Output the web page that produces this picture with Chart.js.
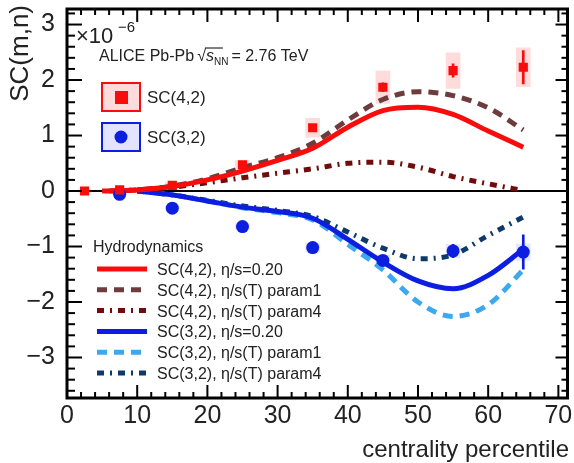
<!DOCTYPE html>
<html>
<head>
<meta charset="utf-8">
<title>SC(m,n) vs centrality</title>
<script src="https://cdn.jsdelivr.net/npm/chart.js@4.4.1/dist/chart.umd.min.js"></script>
<style>
  html, body { margin: 0; padding: 0; background: #fff; }
  canvas { display: block; }
</style>
</head>
<body>
<canvas id="sc" width="574" height="463"></canvas>
<script>
// measured points (units of 1e-6)
var cent42 = [2.5, 7.5, 15, 25, 35, 45, 55, 65];
var sc42 = [0.0, 0.02, 0.1, 0.47, 1.14, 1.87, 2.17, 2.23];
var sc42Stat = [0.01, 0.01, 0.02, 0.03, 0.05, 0.08, 0.12, 0.3];
var sc42Sys = [0.02, 0.03, 0.05, 0.08, 0.17, 0.29, 0.32, 0.35];

var cent32 = [7.5, 15, 25, 35, 45, 55, 65];
var sc32 = [-0.06, -0.31, -0.64, -1.02, -1.25, -1.08, -1.1];
var sc32Stat = [0.01, 0.02, 0.03, 0.05, 0.08, 0.12, 0.31];
var sc32Sys = [0.02, 0.03, 0.05, 0.08, 0.1, 0.12, 0.15];

// hydrodynamic calculations
var hydro42EtaX = [5, 10, 15, 20, 25, 30, 35, 40, 45, 50, 55, 60, 65];
var hydro42Eta = [0, 0.02, 0.08, 0.2, 0.36, 0.55, 0.77, 1.15, 1.45, 1.51, 1.38, 1.08, 0.79];
var hydro42P1X = [6, 10, 15, 20, 25, 30, 35, 40, 45, 50, 55, 60, 65];
var hydro42P1 = [0, 0.02, 0.09, 0.22, 0.42, 0.6, 0.86, 1.28, 1.65, 1.79, 1.72, 1.5, 1.1];
var hydro42P4X = [7, 10, 15, 20, 25, 30, 35, 40, 45, 50, 55, 60, 65];
var hydro42P4 = [0, 0.02, 0.07, 0.15, 0.24, 0.32, 0.4, 0.5, 0.52, 0.43, 0.26, 0.13, 0.01];

var hydro32X = [10, 15, 20, 25, 30, 35, 40, 45, 50, 55, 60, 65];
var hydro32Eta = [0, -0.07, -0.18, -0.29, -0.37, -0.49, -0.87, -1.28, -1.62, -1.76, -1.52, -1.05];
var hydro32P1 = [0, -0.07, -0.18, -0.3, -0.39, -0.52, -0.96, -1.42, -2.0, -2.26, -2.05, -1.42];
var hydro32P4 = [0, -0.07, -0.17, -0.27, -0.35, -0.46, -0.74, -1.03, -1.22, -1.15, -0.8, -0.47];

var hydroLabels = [
  'SC(4,2), \u03b7/s=0.20',
  'SC(4,2), \u03b7/s(T) param1',
  'SC(4,2), \u03b7/s(T) param4',
  'SC(3,2), \u03b7/s=0.20',
  'SC(3,2), \u03b7/s(T) param1',
  'SC(3,2), \u03b7/s(T) param4'
];

var RED = '#f80c0c';
var BLUE = '#0c1ee0';
var FONT = '"Liberation Sans", Arial, Helvetica, sans-serif';

function xy(xs, ys) {
  return xs.map(function(x, i) { return {x: x, y: ys[i]}; });
}
function range(xs, ys, err) {
  return xs.map(function(x, i) { return {x: x, y: [ys[i] - err[i], ys[i] + err[i]]}; });
}

function box(data, color, width, order) {
  return {
    type: 'bar', data: data, backgroundColor: color, borderWidth: 0,
    grouped: false, barThickness: width, maxBarThickness: width, order: order
  };
}
function curve(label, data, color, dash) {
  return {
    type: 'line', label: label, data: data, borderColor: color, borderWidth: 5,
    borderDash: dash, pointRadius: 0, fill: false,
    cubicInterpolationMode: 'monotone', order: 5, hydro: true
  };
}
function marks(data, color, style, r) {
  return {
    type: 'line', data: data, showLine: false, pointStyle: style, pointRadius: r,
    pointBackgroundColor: color, pointBorderWidth: 0, order: 1
  };
}

var dashed = [10, 7];
var dashDot = [7, 6, 2, 6];

var datasets = [
  box(range(cent42, sc42, sc42Sys), 'rgba(255,40,40,0.17)', 14, 10),
  box(range(cent32, sc32, sc32Sys), 'rgba(40,60,255,0.12)', 14, 10),
  curve(hydroLabels[0], xy(hydro42EtaX, hydro42Eta), RED, []),
  curve(hydroLabels[1], xy(hydro42P1X, hydro42P1), '#6e3c3c', dashed),
  curve(hydroLabels[2], xy(hydro42P4X, hydro42P4), '#700c0c', dashDot),
  curve(hydroLabels[3], xy(hydro32X, hydro32Eta), BLUE, []),
  curve(hydroLabels[4], xy(hydro32X, hydro32P1), '#3ea8ee', dashed),
  curve(hydroLabels[5], xy(hydro32X, hydro32P4), '#0e3a6a', dashDot),
  box(range(cent42, sc42, sc42Stat), RED, 2, 2),
  box(range(cent32, sc32, sc32Stat), BLUE, 2, 2),
  marks(xy(cent42, sc42), RED, 'rect', 6.5),
  marks(xy(cent32, sc32), BLUE, 'circle', 6.5)
];

function line(ctx, x1, y1, x2, y2) {
  ctx.beginPath(); ctx.moveTo(x1, y1); ctx.lineTo(x2, y2); ctx.stroke();
}

var decor = {
  id: 'decor',
  beforeDatasetsDraw: function(chart) {
    var ctx = chart.ctx, a = chart.chartArea;
    var y0 = chart.scales.y.getPixelForValue(0);
    ctx.save();
    ctx.strokeStyle = '#000'; ctx.lineWidth = 2;
    line(ctx, a.left, y0, a.right, y0);
    ctx.restore();
  },
  afterDatasetsDraw: function(chart) {
    var ctx = chart.ctx, a = chart.chartArea;
    var sx = chart.scales.x, sy = chart.scales.y;
    ctx.save();

    // frame with inward ticks on all four sides
    ctx.strokeStyle = '#000';
    ctx.lineWidth = 2;
    for (var v = 0; v <= 70; v += 2) {
      var px = sx.getPixelForValue(v);
      var len = v % 10 === 0 ? 13 : 6;
      line(ctx, px, a.bottom, px, a.bottom - len);
      line(ctx, px, a.top, px, a.top + len);
    }
    for (var k = -18; k <= 16; k++) {
      var py = sy.getPixelForValue(k / 5);
      var major = k % 5 === 0;
      line(ctx, a.left, py, a.left + (major ? 15 : 8), py);
      line(ctx, a.right, py, a.right - (major ? 12 : 6), py);
    }
    ctx.lineWidth = 3;
    ctx.strokeRect(a.left, a.top, a.right - a.left, a.bottom - a.top);

    ctx.fillStyle = '#222';
    ctx.textBaseline = 'alphabetic';

    // axis titles
    ctx.font = '24px ' + FONT;
    ctx.textAlign = 'right';
    ctx.fillText('centrality percentile', 569, 457);
    ctx.save();
    ctx.translate(28, 5);
    ctx.rotate(-Math.PI / 2);
    ctx.font = '26px ' + FONT;
    ctx.fillText('SC(m,n)', 0, 0);
    ctx.restore();

    // exponent
    ctx.textAlign = 'left';
    ctx.font = '22px ' + FONT;
    ctx.fillText('\u00d710', 76, 43);
    ctx.font = '15px ' + FONT;
    ctx.fillText('\u22126', 118, 32);

    // collision system label
    var x = 99, y = 61;
    ctx.font = '16px ' + FONT;
    ctx.fillText('ALICE Pb-Pb', x, y);
    x += ctx.measureText('ALICE Pb-Pb').width + 3;
    ctx.fillText('\u221a', x, y);
    x += ctx.measureText('\u221a').width;
    ctx.lineWidth = 1;
    line(ctx, x - 1, y - 13, x + 17, y - 13);
    ctx.font = 'italic 16px ' + FONT;
    ctx.fillText('s', x, y);
    x += ctx.measureText('s').width;
    ctx.font = '10px ' + FONT;
    ctx.fillText('NN', x, y + 4);
    x += ctx.measureText('NN').width + 3;
    ctx.font = '16px ' + FONT;
    ctx.fillText('= 2.76 TeV', x, y);

    // data legend
    ctx.lineWidth = 2;
    ctx.fillStyle = 'rgba(255,40,40,0.17)';
    ctx.fillRect(102, 83, 38, 28);
    ctx.strokeStyle = RED;
    ctx.strokeRect(102, 83, 38, 28);
    ctx.fillStyle = RED;
    ctx.fillRect(115, 91, 13, 13);
    ctx.fillStyle = 'rgba(40,60,255,0.14)';
    ctx.fillRect(102, 123, 38, 28);
    ctx.strokeStyle = BLUE;
    ctx.strokeRect(102, 123, 38, 28);
    ctx.fillStyle = BLUE;
    ctx.beginPath(); ctx.arc(121, 137, 6.5, 0, 2 * Math.PI); ctx.fill();
    ctx.fillStyle = '#222';
    ctx.font = '17px ' + FONT;
    ctx.fillText('SC(4,2)', 147, 103);
    ctx.fillText('SC(3,2)', 147, 143);

    // model legend
    ctx.font = '16px ' + FONT;
    ctx.fillText('Hydrodynamics', 93, 252);
    var rows = chart.data.datasets.filter(function(d) { return d.hydro; });
    rows.forEach(function(d, i) {
      var cy = 269 + i * 20.8;
      ctx.strokeStyle = d.borderColor;
      ctx.lineWidth = 5;
      ctx.setLineDash(d.borderDash);
      line(ctx, 97, cy, 147, cy);
      ctx.setLineDash([]);
      ctx.fillStyle = '#222';
      ctx.fillText(d.label, 157, cy + 6);
    });

    ctx.restore();
  }
};

new Chart(document.getElementById('sc'), {
  type: 'line',
  data: { datasets: datasets },
  options: {
    responsive: false,
    animation: false,
    layout: { padding: { left: 0, right: 5, top: 9, bottom: 0 } },
    plugins: { legend: { display: false }, tooltip: { enabled: false } },
    scales: {
      x: {
        type: 'linear', min: 0, max: 71.3, offset: false,
        grid: { display: false, offset: false }, border: { display: false },
        ticks: {
          stepSize: 10, includeBounds: false, padding: -5,
          color: '#222', font: { family: FONT, size: 25 }
        },
        afterFit: function(s) { s.height = 65; s.paddingLeft = 0; s.paddingRight = 0; }
      },
      y: {
        type: 'linear', min: -3.73, max: 3.28,
        grid: { display: false }, border: { display: false },
        ticks: {
          stepSize: 1, includeBounds: false, padding: 4,
          color: '#222', font: { family: FONT, size: 25 },
          callback: function(v) {
            return Math.abs(v - Math.round(v)) < 1e-6 ? String(Math.round(v)).replace('-', '\u2212') : '';
          }
        },
        afterFit: function(s) { s.width = 67; s.paddingTop = 0; s.paddingBottom = 0; }
      }
    }
  },
  plugins: [decor]
});
</script>
</body>
</html>
